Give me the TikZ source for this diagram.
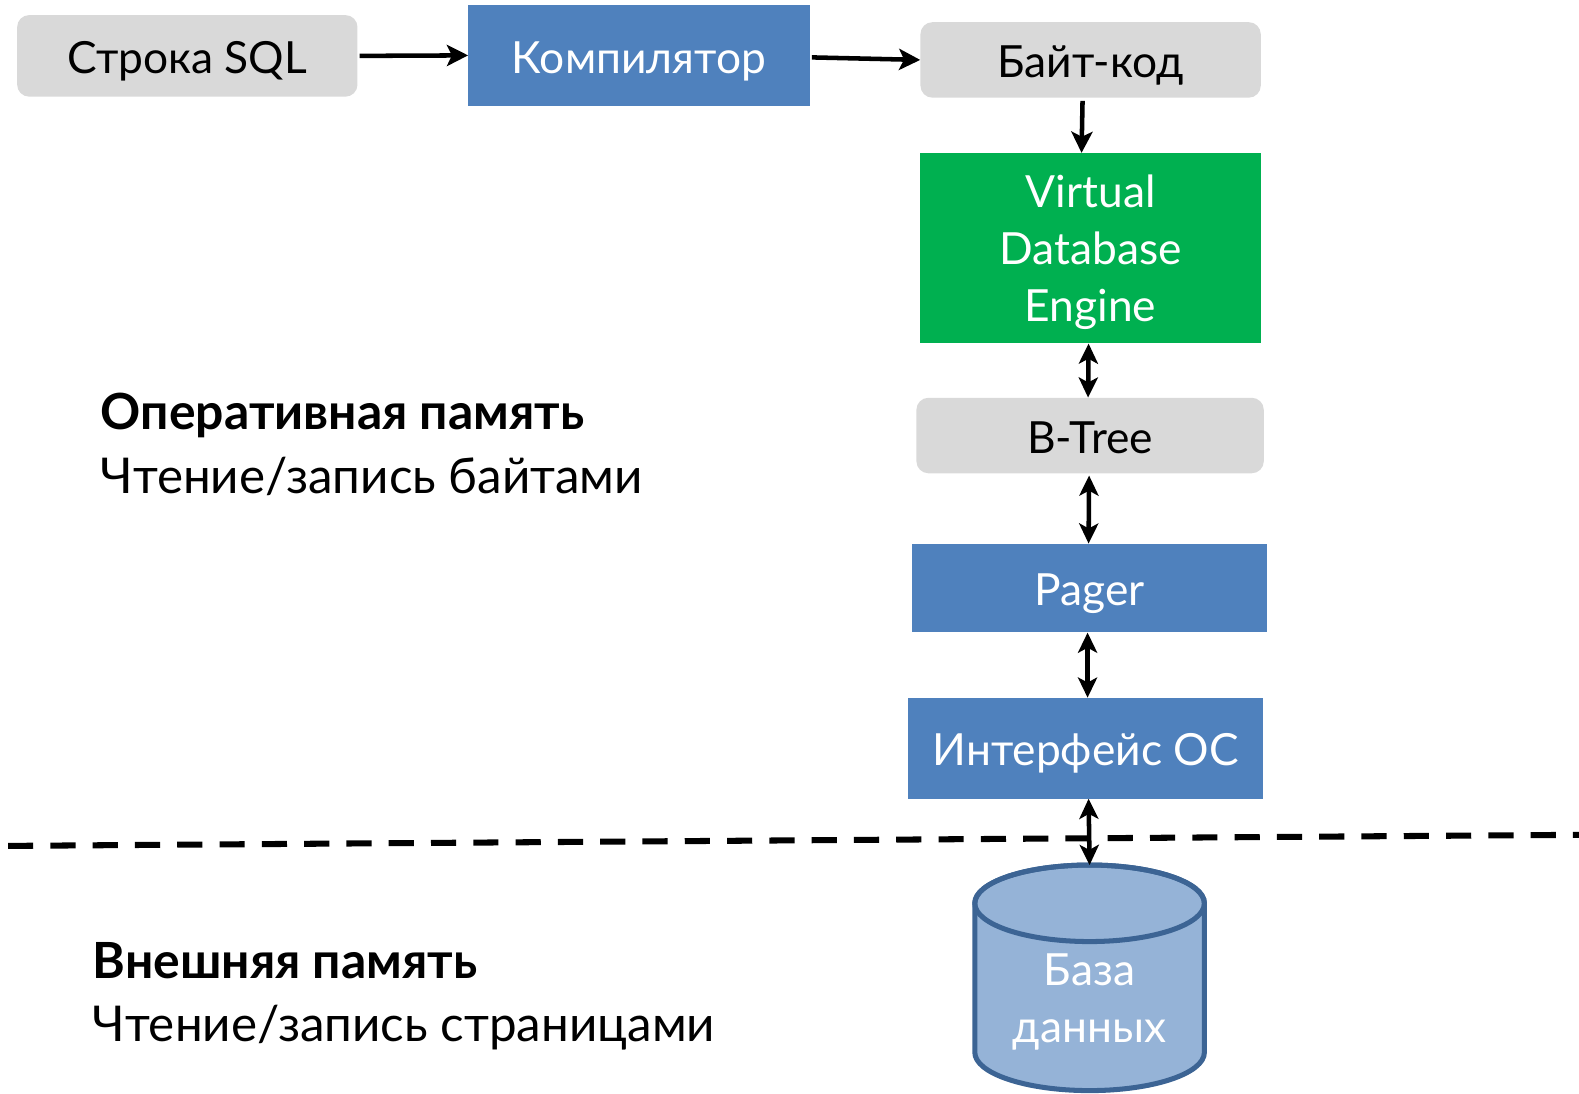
\documentclass[tikz,border=0pt]{standalone}
\usepackage{fontspec}
\setmainfont{Lato}
\usetikzlibrary{arrows.meta}
\definecolor{boxgrey}{HTML}{D9D9D9}
\definecolor{boxblue}{HTML}{4F81BD}
\definecolor{boxgreen}{HTML}{00B050}
\definecolor{dbfill}{HTML}{95B3D7}
\definecolor{dbline}{HTML}{3C6494}
\tikzset{
  every node/.style={font=\fontsize{44}{57}\selectfont, inner sep=0pt, align=center},
  oneline/.style={text height=35pt, text depth=0pt},
  greybox/.style={fill=boxgrey, rounded corners=12pt, text=black},
  bluebox/.style={fill=boxblue, text=white},
  greenbox/.style={fill=boxgreen, text=white},
  link/.style={line width=4.5pt, -{Stealth[length=21pt,width=21pt,inset=5pt]}},
  duplex/.style={line width=4.5pt, {Stealth[length=20pt,width=19pt,inset=5pt]}-{Stealth[length=20pt,width=19pt,inset=5pt]}},
  heading/.style={anchor=base west, font=\fontsize{49.5}{60}\selectfont\bfseries},
  subheading/.style={anchor=base west, font=\fontsize{49}{60}\selectfont},
  divider/.style={line width=6pt, dash pattern=on 25pt off 17pt}
}
\begin{document}
\begin{tikzpicture}[x=1pt,y=-1pt]
\useasboundingbox (0,0) rectangle (1568,1086);

% pipeline boxes
\node[greybox, oneline, minimum width=338pt, minimum height=81pt] (sql) at (186,55.5) {Строка SQL};
\node[bluebox, oneline, minimum width=339pt, minimum height=100pt] (comp) at (634.5,55) {Компилятор};
\node[greybox, oneline, minimum width=338pt, minimum height=75pt] (bc) at (1083,59.5) {Байт-код};
\node[greenbox, minimum width=338pt, minimum height=189pt] (vde) at (1083,246.5) {};
\node[text=white] (vdetext) at ([yshift=-4pt]vde.center) {Virtual\\Database\\Engine};
\node[greybox, oneline, minimum width=345pt, minimum height=75pt] (bt) at (1082.5,432.5) {B-Tree};
\node[bluebox, oneline, minimum width=352pt, minimum height=88pt] (pg) at (1082,584) {Pager};
\node[bluebox, oneline, minimum width=352pt, minimum height=100pt] (os) at (1078,743) {Интерфейс ОС};

% database cylinder
\coordinate (db) at (1082,859);
\filldraw[fill=dbfill, draw=dbline, line width=5pt]
  (968,897) -- (968,1045) arc[start angle=180, end angle=360, x radius=114pt, y radius=38pt]
  -- (1196,897) arc[start angle=0, end angle=180, x radius=114pt, y radius=38pt] -- cycle;
\draw[dbline, line width=5pt] (1082,897) ellipse[x radius=114pt, y radius=38pt];
\node[text=white] (dbtext) at (1082,995) {База\\данных};

% memory boundary
\draw[divider] (8,840) -- (1568,829);

% layer captions
\node[heading] (ram) at (100,427) {Оперативная память};
\node[subheading] (ramio) at (100,490) {Чтение/запись байтами};
\node[heading] (ext) at (92,972) {Внешняя память};
\node[subheading] (extio) at (92,1034) {Чтение/запись страницами};

% connectors
\draw[link] ([xshift=2pt]sql.east) -- (comp.west);
\draw[link] ([xshift=2pt,yshift=-2pt]comp.east) -- (bc.west);
\draw[link] ([xshift=-8pt,yshift=-3pt]bc.south) -- ([xshift=-9pt]vde.north);
\draw[duplex] ([xshift=-2pt]vde.south) -- ([xshift=-2pt]bt.north);
\draw[duplex] ([xshift=-1pt,yshift=-2pt]bt.south) -- ([xshift=-1pt]pg.north);
\draw[duplex] ([xshift=-2pt]pg.south) -- ([xshift=2pt]os.north);
\draw[duplex] ([xshift=3pt]os.south) -- (db);
\end{tikzpicture}
\end{document}
